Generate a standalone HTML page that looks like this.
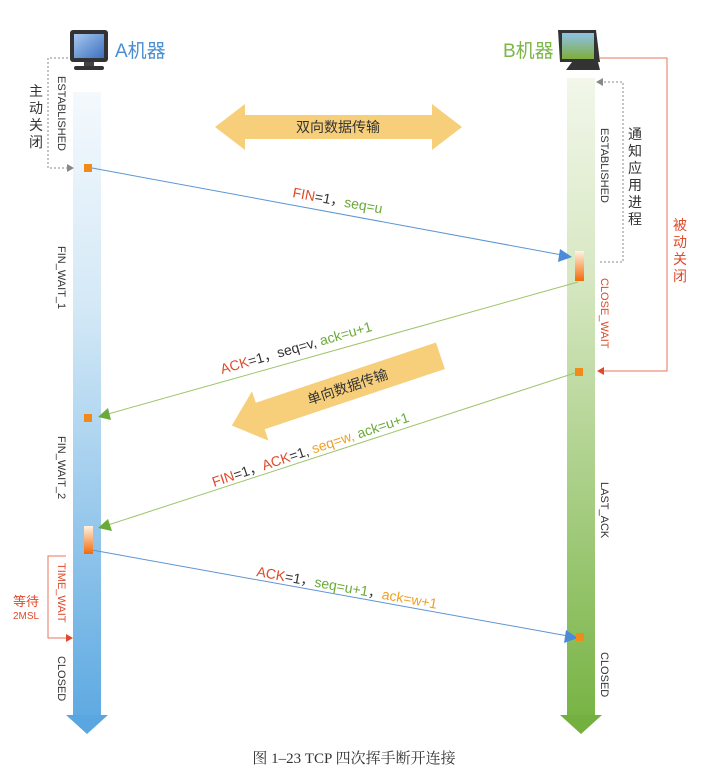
<!DOCTYPE html>
<html><head><meta charset="utf-8"><style>
html,body{margin:0;padding:0;background:#fff;}
svg{display:block;font-family:"Liberation Sans","Noto Sans CJK SC",sans-serif;}
</style></head><body>
<svg width="708" height="778" viewBox="0 0 708 778" xmlns="http://www.w3.org/2000/svg">
<defs>
<linearGradient id="ga" x1="0" y1="0" x2="0" y2="1">
<stop offset="0" stop-color="#f4f9fd"/><stop offset="0.35" stop-color="#d3e8f6"/><stop offset="1" stop-color="#5eaae2"/></linearGradient>
<linearGradient id="gb" x1="0" y1="0" x2="0" y2="1">
<stop offset="0" stop-color="#f2f7ea"/><stop offset="0.3" stop-color="#d8e8c4"/><stop offset="1" stop-color="#78b445"/></linearGradient>
<linearGradient id="go" x1="0" y1="0" x2="0" y2="1">
<stop offset="0" stop-color="#fff3e0"/><stop offset="1" stop-color="#f26a0c"/></linearGradient>
<linearGradient id="scr" x1="0" y1="0" x2="1" y2="1">
<stop offset="0" stop-color="#a8c8ee"/><stop offset="1" stop-color="#3d70c0"/></linearGradient>
<linearGradient id="scrb" x1="0" y1="0" x2="0" y2="1">
<stop offset="0" stop-color="#8fc1e8"/><stop offset="1" stop-color="#7fae3c"/></linearGradient>
</defs>

<!-- lifelines -->
<rect x="73" y="92" width="28" height="625" fill="url(#ga)"/>
<polygon points="66,715 108,715 87,734" fill="#5aa6e0"/>
<rect x="567" y="78" width="28" height="639" fill="url(#gb)"/>
<polygon points="560,715 602,715 581,734" fill="#74b040"/>

<!-- monitors -->
<rect x="70" y="30" width="38" height="32" rx="3" fill="#333"/>
<rect x="74" y="34" width="30" height="24" fill="url(#scr)"/>
<rect x="84" y="62" width="10" height="5" fill="#444"/>
<rect x="74" y="66" width="30" height="4" rx="2" fill="#333"/>
<text x="115" y="57" font-size="19" fill="#4b8ed0">A机器</text>
<polygon points="558,30 596,30 600,62 560,62" fill="#333"/>
<rect x="562" y="33" width="32" height="26" fill="url(#scrb)"/>
<polygon points="572,62 598,62 600,70 566,70" fill="#333"/>
<text x="503" y="57" font-size="19" fill="#7ab648">B机器</text>

<!-- double arrow -->
<polygon points="215,127 245,104 245,115 432,115 432,104 462,127 432,150 432,139 245,139 245,150" fill="#f7cf7a"/>
<text x="338" y="132" font-size="14" fill="#333" text-anchor="middle">双向数据传输</text>

<!-- single arrow -->
<g transform="translate(338,390) rotate(-18.5)">
<polygon points="-112,0 -82,-26 -82,-14 108,-14 108,14 -82,14 -82,26" fill="#f7cf7a"/>
<text x="10" y="5" font-size="14" fill="#333" text-anchor="middle">单向数据传输</text>
</g>

<!-- messages -->
<line x1="92" y1="168" x2="562" y2="255" stroke="#5b95d5" stroke-width="1"/>
<polygon points="572,257 560,249 558,262" fill="#4c8cd6"/>
<line x1="578" y1="282" x2="108" y2="414" stroke="#9cc56a" stroke-width="1"/>
<polygon points="98,417 108,408 111,420" fill="#6aaa38"/>
<line x1="578" y1="372" x2="108" y2="525" stroke="#9cc56a" stroke-width="1"/>
<polygon points="98,528 108,519 112,531" fill="#6aaa38"/>
<line x1="92" y1="550" x2="568" y2="636" stroke="#5b95d5" stroke-width="1"/>
<polygon points="578,638 566,630 564,643" fill="#4c8cd6"/>

<!-- squares / bars -->
<rect x="84" y="164" width="8" height="8" fill="#f28a1a"/>
<rect x="575" y="368" width="8" height="8" fill="#f28a1a"/>
<rect x="84" y="414" width="8" height="8" fill="#f28a1a"/>
<rect x="576" y="633" width="8" height="8" fill="#f28a1a"/>
<rect x="575" y="251" width="9" height="30" fill="url(#go)"/>
<rect x="84" y="526" width="9" height="28" fill="url(#go)"/>

<!-- labels -->
<text transform="translate(292,197) rotate(10.5)" font-size="14" fill="#333"><tspan fill="#e04a2a">FIN</tspan>=1，<tspan fill="#6aaa38">seq=u</tspan></text>
<text transform="translate(222,374) rotate(-16)" font-size="14" fill="#333"><tspan fill="#e04a2a">ACK</tspan>=1，seq=v, <tspan fill="#6aaa38">ack=u+1</tspan></text>
<text transform="translate(214,487) rotate(-18.5)" font-size="14" fill="#333"><tspan fill="#e04a2a">FIN</tspan>=1，<tspan fill="#e04a2a">ACK</tspan>=1, <tspan fill="#f0a020">seq=w,</tspan> <tspan fill="#6aaa38">ack=u+1</tspan></text>
<text transform="translate(256,576) rotate(10.3)" font-size="14" fill="#333"><tspan fill="#e04a2a">ACK</tspan>=1，<tspan fill="#6aaa38">seq=u+1</tspan>，<tspan fill="#f0a020">ack=w+1</tspan></text>

<!-- state labels (rotated) -->
<g font-size="11" fill="#333">
<text transform="translate(58,76) rotate(90)">ESTABLISHED</text>
<text transform="translate(58,246) rotate(90)">FIN_WAIT_1</text>
<text transform="translate(58,436) rotate(90)">FIN_WAIT_2</text>
<text transform="translate(58,563) rotate(90)" fill="#e04a2a">TIME_WAIT</text>
<text transform="translate(58,656) rotate(90)">CLOSED</text>
<text transform="translate(601,128) rotate(90)">ESTABLISHED</text>
<text transform="translate(601,278) rotate(90)" fill="#e04a2a">CLOSE_WAIT</text>
<text transform="translate(601,482) rotate(90)">LAST_ACK</text>
<text transform="translate(601,652) rotate(90)">CLOSED</text>
</g>

<!-- brackets -->
<polyline points="68,58 48,58 48,168 70,168" fill="none" stroke="#888" stroke-width="1" stroke-dasharray="2,2"/>
<polygon points="74,168 67,164 67,172" fill="#888"/>
<g font-size="14" fill="#333" text-anchor="middle">
<text x="36" y="96">主</text><text x="36" y="113">动</text><text x="36" y="130">关</text><text x="36" y="147">闭</text>
</g>
<polyline points="600,82 623,82 623,262 598,262" fill="none" stroke="#888" stroke-width="1" stroke-dasharray="2,2"/>
<polygon points="596,82 603,78 603,86" fill="#888"/>
<g font-size="14" fill="#333" text-anchor="middle">
<text x="635" y="139">通</text><text x="635" y="156">知</text><text x="635" y="173">应</text><text x="635" y="190">用</text><text x="635" y="207">进</text><text x="635" y="224">程</text>
</g>
<polyline points="600,58 667,58 667,371 602,371" fill="none" stroke="#e8745a" stroke-width="1"/>
<polygon points="597,371 604,367 604,375" fill="#e04a2a"/>
<g font-size="14" fill="#e04a2a" text-anchor="middle">
<text x="680" y="230">被</text><text x="680" y="247">动</text><text x="680" y="264">关</text><text x="680" y="281">闭</text>
</g>
<polyline points="66,556 48,556 48,638 68,638" fill="none" stroke="#e8745a" stroke-width="1"/>
<polygon points="73,638 66,634 66,642" fill="#e04a2a"/>
<text x="26" y="606" font-size="13" fill="#e04a2a" text-anchor="middle">等待</text>
<text x="26" y="619" font-size="10" fill="#e04a2a" text-anchor="middle">2MSL</text>

<text x="354" y="763" font-size="15" fill="#333" text-anchor="middle" font-family="Liberation Serif, Noto Serif CJK SC, serif">图 1–23   TCP 四次挥手断开连接</text>
</svg>
</body></html>
